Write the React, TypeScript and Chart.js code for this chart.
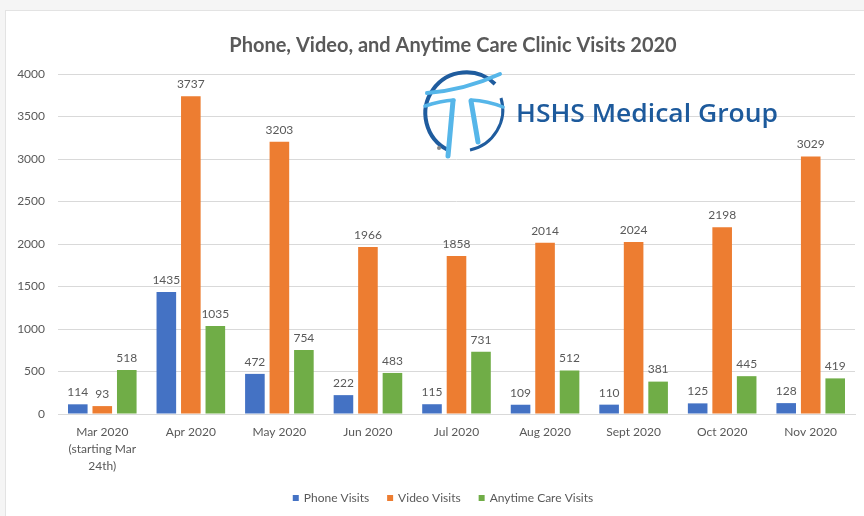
import React, { useEffect, useRef } from "react";
import { Chart, registerables } from "chart.js";

Chart.register(...registerables);

const categories: (string | string[])[] = [
  ["Mar 2020", "(starting Mar", "24th)"],
  "Apr 2020",
  "May 2020",
  "Jun 2020",
  "Jul 2020",
  "Aug 2020",
  "Sept 2020",
  "Oct 2020",
  "Nov 2020",
];
const phoneVisits = [114, 1435, 472, 222, 115, 109, 110, 125, 128];
const videoVisits = [93, 3737, 3203, 1966, 1858, 2014, 2024, 2198, 3029];
const anytimeVisits = [518, 1035, 754, 483, 731, 512, 381, 445, 419];
const seriesNames = ["Phone Visits", "Video Visits", "Anytime Care Visits"];
const seriesColors = ["#4472C4", "#ED7D31", "#70AD47"];
const chartTitle = "Phone, Video, and Anytime Care Clinic Visits 2020";
const logoText = "HSHS Medical Group";

const TEXT = "#595959";
const FONT = "Lato, 'Open Sans', sans-serif";

const labelPlugin = {
  id: "customDraw",
  afterDatasetsDraw(chart: any) {
    const ctx = chart.ctx;
    ctx.save();
    ctx.font = `12px ${FONT}`;
    ctx.fillStyle = TEXT;
    ctx.textAlign = "center";
    ctx.textBaseline = "bottom";
    chart.data.datasets.forEach((ds: any, i: number) => {
      const meta = chart.getDatasetMeta(i);
      meta.data.forEach((bar: any, j: number) => {
        ctx.fillText(String(ds.data[j]), bar.x, bar.y - 6);
      });
    });
    ctx.restore();
  },
  afterDraw(chart: any) {
    const ctx = chart.ctx;
    ctx.save();
    ctx.font = `bold 20px ${FONT}`;
    ctx.fillStyle = TEXT;
    ctx.textAlign = "center";
    ctx.textBaseline = "middle";
    ctx.fillText(chartTitle, 453, 46);
    ctx.font = `12px ${FONT}`;
    ctx.textAlign = "left";
    const box = 6;
    const gapBox = 5;
    const gapItem = 18;
    const widths = seriesNames.map((n) => ctx.measureText(n).width);
    const total =
      widths.reduce((a, b) => a + b, 0) +
      seriesNames.length * (box + gapBox) +
      gapItem * (seriesNames.length - 1);
    let x = 443 - total / 2;
    const y = 498;
    seriesNames.forEach((n, i) => {
      ctx.fillStyle = seriesColors[i];
      ctx.fillRect(x, y - box / 2, box, box);
      x += box + gapBox;
      ctx.fillStyle = TEXT;
      ctx.fillText(n, x, y);
      x += widths[i] + gapItem;
    });
    ctx.restore();
  },
};

function Logo() {
  return (
    <svg
      width={864}
      height={516}
      style={{ position: "absolute", left: 0, top: 0, pointerEvents: "none" }}
    >
      <path
        d="M 448 150 A 41 41 0 1 1 495 84"
        fill="none"
        stroke="#1F5C9E"
        strokeWidth={4}
      />
      <path
        d="M 501 98 A 41 41 0 0 1 470 150"
        fill="none"
        stroke="#1F5C9E"
        strokeWidth={3}
      />
      <g fill="none" stroke="#56B6E9" strokeLinecap="round">
        <path d="M 427 93 Q 465 90 500 74" strokeWidth={4} />
        <path d="M 425 106 Q 440 101 454 100" strokeWidth={3.5} />
        <path d="M 471 100 Q 488 101 503 107" strokeWidth={3.5} />
        <path d="M 453 101 L 448 156" strokeWidth={5} />
        <path d="M 471 101 L 478 142" strokeWidth={5} />
      </g>
      <circle cx={439} cy={148} r={2} fill="#888" />
      <text
        x={516}
        y={122}
        fontFamily="'Open Sans', sans-serif"
        fontSize={26}
        fontWeight={600}
        fill="#1D5A9C"
        textLength={262}
        lengthAdjust="spacingAndGlyphs"
      >
        {logoText}
      </text>
    </svg>
  );
}

export default function App() {
  const ref = useRef<HTMLCanvasElement>(null);
  useEffect(() => {
    if (!ref.current) return;
    const chart = new Chart(ref.current, {
      type: "bar",
      data: {
        labels: categories,
        datasets: [
          { label: seriesNames[0], data: phoneVisits, backgroundColor: seriesColors[0] },
          { label: seriesNames[1], data: videoVisits, backgroundColor: seriesColors[1] },
          { label: seriesNames[2], data: anytimeVisits, backgroundColor: seriesColors[2] },
        ],
      },
      options: {
        responsive: false,
        animation: false,
        devicePixelRatio: 1,
        layout: { padding: { top: 74, left: 0, right: 9, bottom: 0 } },
        datasets: { bar: { categoryPercentage: 0.83, barPercentage: 0.8 } },
        plugins: {
          legend: { display: false },
          title: { display: false },
          tooltip: { enabled: false },
        },
        scales: {
          x: {
            grid: { display: false, drawTicks: false },
            border: { display: true, color: "#D9D9D9" },
            ticks: {
              color: TEXT,
              font: { family: FONT, size: 12, lineHeight: 1.4 },
              padding: 10,
              maxRotation: 0,
              autoSkip: false,
            },
            afterFit(scale: any) {
              scale.height = 102;
            },
          },
          y: {
            min: 0,
            max: 4000,
            grid: { color: "#D9D9D9", drawTicks: false },
            border: { display: false },
            ticks: {
              stepSize: 500,
              color: TEXT,
              font: { family: FONT, size: 12 },
              padding: 13,
              callback: (v: any) => String(v),
            },
            afterFit(scale: any) {
              scale.width = 58;
            },
          },
        },
      },
      plugins: [labelPlugin],
    });
    return () => chart.destroy();
  }, []);
  return (
    <div
      style={{
        position: "absolute",
        left: 0,
        top: 0,
        width: 864,
        height: 516,
        background: "#F5F5F5",
        overflow: "hidden",
      }}
    >
      <div
        style={{
          position: "absolute",
          left: 5,
          top: 10,
          width: 870,
          height: 520,
          background: "#FFFFFF",
          border: "1px solid #E3E3E3",
        }}
      />
      <canvas
        ref={ref}
        width={864}
        height={516}
        style={{ position: "absolute", left: 0, top: 0 }}
      />
      <Logo />
    </div>
  );
}
